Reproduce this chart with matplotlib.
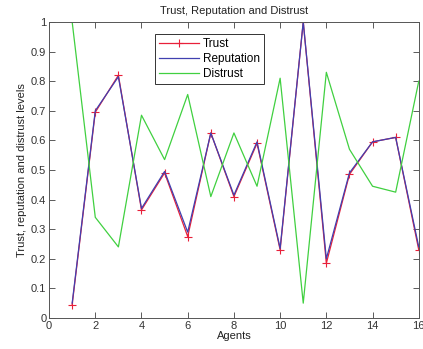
import numpy as np
import matplotlib
matplotlib.use("Agg")
import matplotlib.pyplot as plt

# values
agents = np.arange(1, 17)
trust = [0.045, 0.695, 0.82, 0.365, 0.49, 0.275, 0.625, 0.41, 0.59, 0.23, 1.0, 0.185, 0.485, 0.595, 0.61, 0.23]
reputation = [0.05, 0.70, 0.815, 0.37, 0.495, 0.29, 0.625, 0.415, 0.595, 0.235, 1.0, 0.20, 0.49, 0.595, 0.61, 0.24]
distrust = [1.0, 0.34, 0.24, 0.685, 0.535, 0.755, 0.41, 0.625, 0.445, 0.81, 0.05, 0.83, 0.57, 0.445, 0.425, 0.8]

plt.rcParams['font.family'] = ['Liberation Sans', 'DejaVu Sans']
plt.rcParams['font.size'] = 8

fig = plt.figure(figsize=(4.23, 3.49), dpi=100)
ax = fig.add_axes([0.116, 0.089, 0.874, 0.848])

ax.plot(agents, trust, color='#e8203a', marker='+', markersize=6, markeredgewidth=0.8, lw=0.9, label='Trust')
ax.plot(agents, reputation, color='#4040b0', lw=0.9, label='Reputation')
ax.plot(agents, distrust, color='#40d040', lw=0.9, label='Distrust')

ax.set_xlim(0, 16)
ax.set_ylim(0, 1)
ax.set_xticks(np.arange(0, 17, 2))
ax.set_yticks(np.arange(0, 1.01, 0.1))
ax.set_yticklabels(['0', '0.1', '0.2', '0.3', '0.4', '0.5', '0.6', '0.7', '0.8', '0.9', '1'])
ax.tick_params(direction='in', top=True, right=True, length=4, width=0.6, colors='#404040', labelcolor='#333333', pad=2)
for s in ax.spines.values():
    s.set_color('#555555')
    s.set_linewidth(0.7)

ax.set_title('Trust, Reputation and Distrust', fontsize=8, pad=6, color='#222222')
ax.set_xlabel('Agents', labelpad=0, color='#222222')
ax.set_ylabel('Trust, reputation and distrust levels', labelpad=3, color='#222222')

leg = ax.legend(loc='upper left', bbox_to_anchor=(0.27, 0.98), fancybox=False, framealpha=1,
                handlelength=3.4, handletextpad=0.3, borderpad=0.35, labelspacing=0.25, fontsize=8.5)
leg.get_frame().set_edgecolor('#333333')
leg.get_frame().set_linewidth(0.7)

fig.savefig('out.png', dpi=100)
